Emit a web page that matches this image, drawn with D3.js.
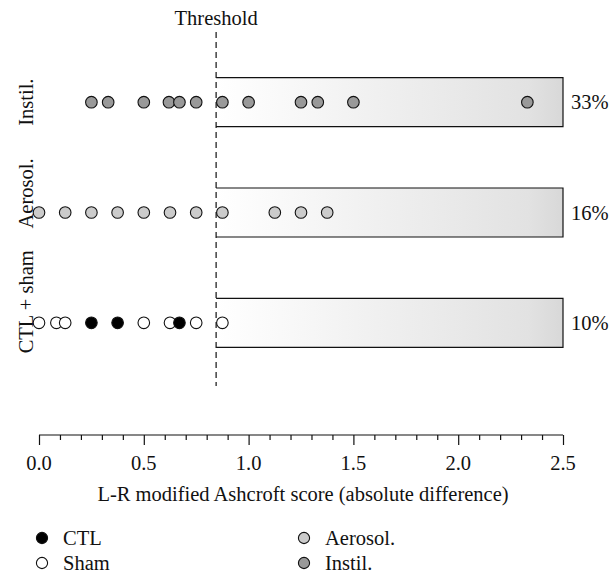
<!DOCTYPE html>
<html><head><meta charset="utf-8">
<script src="https://cdn.jsdelivr.net/npm/d3@7"></script>
<style>body{margin:0;background:#fff}svg{display:block}text{font-family:"Liberation Serif","DejaVu Serif",serif;fill:#111}</style>
</head><body><svg id="c" width="610" height="577"></svg>
<script>
const groups = ["Instil.", "Aerosol.", "CTL + sham"];
const percents = ["33%", "16%", "10%"];
const threshold = 0.845;
const instilValues = [0.25, 0.33, 0.5, 0.62, 0.67, 0.75, 0.875, 1.0, 1.25, 1.33, 1.5, 2.33];
const aerosolValues = [0, 0.125, 0.25, 0.375, 0.5, 0.625, 0.75, 0.875, 1.125, 1.25, 1.375];
const shamValues = [0, 0.083, 0.125, 0.5, 0.625, 0.75, 0.875];
const ctlValues = [0.25, 0.375, 0.67];
const xTicks = [0, 0.5, 1.0, 1.5, 2.0, 2.5];
const legendItems = ["CTL", "Sham", "Aerosol.", "Instil."];

const colors = {"CTL":"#000","Sham":"#fff","Aerosol.":"#cbcbcb","Instil.":"#999"};
const FS = 20.5;
const svg = d3.select("#c");
const x = d3.scaleLinear().domain([0, 2.5]).range([39, 563]);
const y = d3.scaleBand().domain(groups).range([47, 378]).padding(0);
const labelShift = [0, -19, -21];

const defs = svg.append("defs");
const grad = defs.append("linearGradient").attr("id","g").attr("x1","0").attr("x2","1");
grad.append("stop").attr("offset","0").attr("stop-color","#fff");
grad.append("stop").attr("offset","0.9").attr("stop-color","#e2e2e2");
grad.append("stop").attr("offset","1").attr("stop-color","#d8d8d8");

// boxes
groups.forEach((g,i)=>{
  const cy = y(g)+y.bandwidth()/2;
  const x0 = x(threshold), x1 = x(2.5), h = 24.5;
  svg.append("rect").attr("x",x0).attr("y",cy-h).attr("width",x1-x0).attr("height",2*h).attr("fill","url(#g)");
  svg.append("path").attr("d",`M${x0},${cy-h}H${x1}V${cy+h}H${x0}`).attr("fill","none").attr("stroke","#111").attr("stroke-width",1.2);
  svg.append("text").attr("x",571).attr("y",cy+7).attr("font-size",FS).text(percents[i]);
  svg.append("text").attr("transform",`translate(33,${cy+labelShift[i]}) rotate(-90)`).attr("text-anchor","middle").attr("font-size",FS).text(g);
});

// threshold
svg.append("line").attr("x1",x(threshold)).attr("x2",x(threshold)).attr("y1",32).attr("y2",386)
  .attr("stroke","#111").attr("stroke-width",1.2).attr("stroke-dasharray","6,4");
svg.append("text").attr("x",x(threshold)).attr("y",25).attr("text-anchor","middle").attr("font-size",FS).text("Threshold");

function dots(vals, grp, key){
  const cy = y(grp)+y.bandwidth()/2;
  svg.append("g").selectAll("circle").data(vals).join("circle")
    .attr("cx",d=>x(d)).attr("cy",cy).attr("r",5.8)
    .attr("fill",colors[key]).attr("stroke","#111").attr("stroke-width",1.1);
}
dots(instilValues,"Instil.","Instil.");
dots(aerosolValues,"Aerosol.","Aerosol.");
dots(shamValues,"CTL + sham","Sham");
dots(ctlValues,"CTL + sham","CTL");

// axis
const ax = svg.append("g").attr("transform","translate(0,435)");
ax.call(d3.axisBottom(x).tickValues(d3.range(0,2.5001,0.1)).tickSize(5).tickFormat(""));
ax.call(g=>g.selectAll(".tick").filter(d=>xTicks.some(t=>Math.abs(t-d)<1e-6)).select("line").attr("y2",10));
ax.select(".domain").attr("d",`M${x(0)},0H${x(2.5)}`).attr("stroke","#111").attr("stroke-width",1.2);
ax.selectAll(".tick line").attr("stroke","#111").attr("stroke-width",1.2);
svg.append("g").selectAll("text").data(xTicks).join("text")
  .attr("x",d=>x(d)).attr("y",470).attr("text-anchor","middle").attr("font-size",FS).text(d=>d.toFixed(1));
svg.append("text").attr("x",303).attr("y",501).attr("text-anchor","middle").attr("font-size",FS)
  .text("L-R modified Ashcroft score (absolute difference)");

// legend
legendItems.forEach((k,i)=>{
  const lx = i<2 ? 42 : 304, ly = i%2===0 ? 538 : 563;
  svg.append("circle").attr("cx",lx).attr("cy",ly).attr("r",5.6).attr("fill",colors[k]).attr("stroke","#111").attr("stroke-width",1.1);
  svg.append("text").attr("x",lx+21).attr("y",ly+7).attr("font-size",FS).text(k);
});
</script></body></html>
